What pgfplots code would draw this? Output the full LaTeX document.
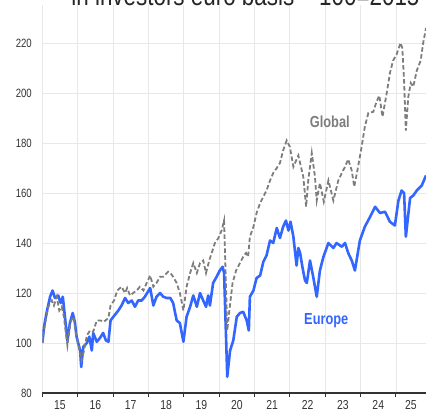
\documentclass[border=0pt]{standalone}
\usepackage{fontspec}
\setmainfont{Liberation Sans}[FakeStretch=0.8]
\usepackage{pgfplots}
\usepackage{pgfplotstable}
\pgfplotsset{compat=1.18}
\usetikzlibrary{calc}
\definecolor{eublue}{RGB}{51,102,255}
\definecolor{glgray}{RGB}{125,125,125}
\definecolor{gridc}{RGB}{232,232,232}
\definecolor{tickc}{RGB}{51,51,51}

\pgfplotstableread{
t v
2015.00 100
2015.05 106.5
2015.12 112
2015.22 118.5
2015.29 121
2015.36 118
2015.45 119
2015.52 116
2015.58 118.5
2015.64 110.5
2015.71 101
2015.78 108
2015.86 112
2015.92 108.5
2015.97 102.5
2016.07 97
2016.10 90.4
2016.16 98.5
2016.26 100
2016.33 102.5
2016.40 97
2016.44 104
2016.54 100.5
2016.63 102
2016.72 104
2016.80 101
2016.87 100.5
2016.93 109
2017.01 110.5
2017.15 113
2017.24 115
2017.34 118
2017.43 116
2017.53 117
2017.62 114.5
2017.71 117
2017.81 117
2017.90 118.5
2018.05 122
2018.14 115
2018.23 118.5
2018.33 120
2018.42 118.5
2018.52 118
2018.62 118
2018.70 116
2018.80 109
2018.89 108
2018.99 100.5
2019.08 110.5
2019.18 114.5
2019.27 119
2019.37 114.5
2019.46 120
2019.55 117
2019.63 114.5
2019.69 119
2019.74 115
2019.83 124
2019.93 126.5
2020.02 129
2020.10 130.5
2020.14 128
2020.19 105
2020.23 86.5
2020.31 97
2020.40 101
2020.50 110.5
2020.59 112
2020.68 112.5
2020.78 109
2020.84 105
2020.87 118.5
2020.97 121
2021.06 126
2021.16 127
2021.25 132.5
2021.34 135
2021.44 141
2021.53 140
2021.63 146
2021.72 142
2021.81 146.5
2021.89 149
2021.96 145
2022.02 148.5
2022.10 142.5
2022.19 131
2022.24 138
2022.29 136
2022.36 130
2022.43 125
2022.48 124
2022.57 133
2022.66 126.5
2022.76 118.5
2022.85 129
2022.95 134.5
2023.09 140
2023.23 138
2023.32 140
2023.47 138.5
2023.56 140
2023.65 136
2023.75 133
2023.84 129
2023.98 141
2024.12 146.5
2024.27 150.5
2024.41 154.5
2024.55 152
2024.69 152.5
2024.83 148.5
2024.97 147
2025.07 157
2025.16 161
2025.23 160
2025.28 142.5
2025.40 158
2025.49 159
2025.59 161
2025.73 163
2025.85 167
}\europedata

\pgfplotstableread{
t v
2015.00 100
2015.08 108
2015.17 114.5
2015.27 117
2015.33 115
2015.41 118.5
2015.48 113
2015.55 114.5
2015.61 110.5
2015.71 99
2015.80 108.5
2015.88 110.5
2015.95 104
2016.05 97
2016.11 93
2016.18 97
2016.26 103
2016.35 105
2016.44 104.5
2016.54 109
2016.65 109
2016.74 108.5
2016.87 110
2016.93 115
2017.03 117
2017.12 121
2017.24 122.5
2017.34 120
2017.40 122
2017.48 119
2017.57 120
2017.67 121
2017.76 122.5
2017.86 121
2017.95 124
2018.05 127
2018.14 122.5
2018.23 124
2018.33 126.5
2018.42 126.5
2018.56 128.5
2018.62 128
2018.70 126.5
2018.80 124
2018.89 120
2018.99 113
2019.08 122.5
2019.18 128
2019.27 132
2019.37 128
2019.46 132
2019.55 133
2019.63 128
2019.72 133
2019.79 136
2019.88 140
2019.98 142
2020.07 145
2020.14 149
2020.19 125
2020.23 105
2020.29 113
2020.38 124
2020.48 129
2020.59 132
2020.68 134.5
2020.76 136
2020.82 134.5
2020.87 142.5
2020.97 146.5
2021.06 152
2021.16 156
2021.25 158.5
2021.34 161
2021.44 165
2021.53 168
2021.63 170
2021.72 172
2021.81 177
2021.91 181
2022.00 178.5
2022.10 170.5
2022.24 175
2022.38 166.5
2022.46 154.5
2022.52 165
2022.62 176
2022.71 166.5
2022.76 157
2022.85 164
2022.96 156.5
2023.09 165
2023.23 157
2023.37 165
2023.47 168
2023.56 170.5
2023.65 173.5
2023.75 169
2023.82 162.5
2023.91 169
2024.03 178.5
2024.12 186.5
2024.22 192
2024.36 192.5
2024.45 196.5
2024.53 199
2024.62 190.5
2024.74 200
2024.83 208
2024.92 213
2025.02 215.5
2025.13 220
2025.18 218
2025.23 205
2025.28 185
2025.35 198.5
2025.42 204
2025.49 202.5
2025.59 209
2025.70 213
2025.77 220
2025.85 226
}\globaldata

\begin{document}
\begin{tikzpicture}
\begin{axis}[
  scale only axis,
  width=383.7bp, height=387.5bp,
  xmin=2015, xmax=2025.85, ymin=80, ymax=235,
  axis x line*=bottom, axis y line*=left,
  y axis line style={draw=none},
  x axis line style={tickc, line width=1.1bp},
  xtick={2015,2016,...,2025}, xticklabels={},
  extra x ticks={2015.5,2016.5,2017.5,2018.5,2019.5,2020.5,2021.5,2022.5,2023.5,2024.5,2025.425},
  extra x tick labels={15,16,17,18,19,20,21,22,23,24,25},
  extra x tick style={grid=none, major tick length=0pt},
  ytick={80,100,...,220},
  /pgf/number format/assume math mode=true,
  grid=major,
  major grid style={gridc, line width=0.8bp},
  tick align=outside,
  major tick length=4bp,
  xtick style={tickc, line width=0.9bp},
  ytick style={draw=none},
  yticklabel style={font=\fontsize{12bp}{14bp}\selectfont, text=tickc, anchor=east, xshift=-3bp},
  xticklabel style={font=\fontsize{13bp}{15bp}\selectfont, text=tickc, anchor=base, yshift=-16.3bp},
]
\addplot[eublue, line width=2.6bp, line join=round] table[x=t,y=v]{\europedata};
\addplot[glgray, line width=1.8bp, dash pattern=on 4.5bp off 2.5bp] table[x=t,y=v]{\globaldata};
\node[font=\bfseries\fontsize{16bp}{18bp}\selectfont, text=glgray] at (axis cs:2023.13,188.4) {Global};
\node[font=\bfseries\fontsize{16bp}{18bp}\selectfont, text=eublue] at (axis cs:2023.03,108.8) {Europe};
\end{axis}
\node[anchor=base east, font=\fontsize{28bp}{30bp}\selectfont, text=black!85] at ($(current axis.north east)+(-3bp,0.3bp)$) {in investors euro basis – 100=2015};
\pgfresetboundingbox
\path[use as bounding box] ($(current axis.south west)+(-42.3bp,-19bp)$) rectangle ($(current axis.north east)+(0bp,5.5bp)$);
\end{tikzpicture}
\end{document}
